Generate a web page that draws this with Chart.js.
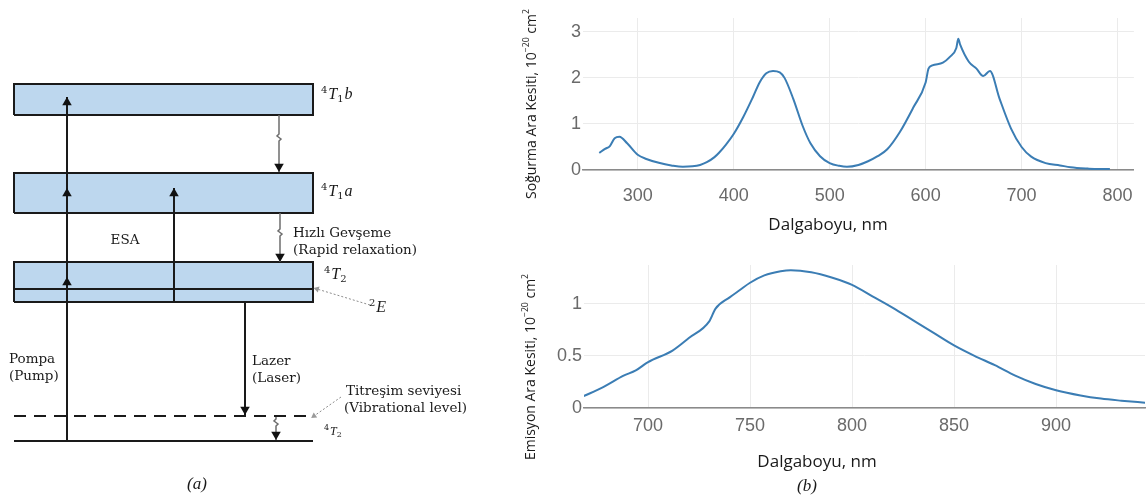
<!DOCTYPE html>
<html>
<head>
<meta charset="utf-8">
<script src="https://cdn.jsdelivr.net/npm/chart.js@4.4.1/dist/chart.umd.min.js"></script>
<style>
  html, body { margin: 0; padding: 0; background: #fff; }
  #wrap { position: relative; width: 1148px; height: 502px; overflow: hidden; }
  canvas { position: absolute; }
  #levels { left: 0; top: 0; width: 480px; height: 502px; }
  #abs { left: 500px; top: 0; width: 648px; height: 240px; }
  #emi { left: 500px; top: 240px; width: 648px; height: 262px; }
</style>
</head>
<body>
<div id="wrap">
  <canvas id="levels" width="480" height="502"></canvas>
  <canvas id="abs" width="648" height="240"></canvas>
  <canvas id="emi" width="648" height="262"></canvas>
</div>
<script>
// (a) enerji seviyesi şeması: x = şema genişliği, y = taban seviyeden enerji (keyfi birim)
const LEVEL_X = [14, 313];
const BANDS = [
  { lo: 326, hi: 357 },   // 4T1b
  { lo: 228, hi: 268 },   // 4T1a
  { lo: 139, hi: 179 },   // 4T2
];
const E2_LEVEL = 152;
const VIB_LEVEL = 25;
const GROUND = 0;

const PUMP = { x: 67, from: 0, heads: [344, 253, 164] };
const ESA = { x: 174, from: 139, to: 253 };
const LASER = { x: 245, from: 139, to: 26 };
const RELAX = [
  { x: 279, from: 326, to: 269, kink: 303 },
  { x: 280, from: 228, to: 179, kink: 208 },
  { x: 276, from: 25, to: 1, kink: 18 },
];
const POINTERS = [
  { from: [370, 136], to: [317, 152] },
  { from: [341, 44], to: [314, 25] },
];

const DIAGRAM_TEXT = [
  { x: 125, y: 201, text: 'ESA', align: 'center' },
  { x: 293, y: 208, text: 'Hızlı Gevşeme' },
  { x: 293, y: 191, text: '(Rapid relaxation)' },
  { x: 9, y: 82, text: 'Pompa' },
  { x: 9, y: 65, text: '(Pump)' },
  { x: 252, y: 80, text: 'Lazer' },
  { x: 252, y: 63, text: '(Laser)' },
  { x: 346, y: 50, text: 'Titreşim seviyesi' },
  { x: 344, y: 33, text: '(Vibrational level)' },
];
const TERMS = [
  { x: 321, y: 346, sup: '4', main: 'T', sub: '1', tail: 'b' },
  { x: 321, y: 249, sup: '4', main: 'T', sub: '1', tail: 'a' },
  { x: 324, y: 166, sup: '4', main: 'T', sub: '2', tail: '' },
  { x: 369, y: 133, sup: '2', main: 'E', sub: '', tail: '' },
  { x: 324, y: 9, sup: '4', main: 'T', sub: '2', tail: '', small: true },
];

// (b) soğurma ve emisyon ara kesitleri (10^-20 cm²)
const ABS_NM = [260, 266, 271, 276, 281, 289, 300, 309, 323, 335, 347, 357, 365, 372, 380, 385,
  392, 400, 410, 420, 427, 434, 441, 448, 453, 462, 472, 480, 490, 500, 510, 518, 530, 540, 550,
  560, 573, 587, 600, 603, 607, 618, 625, 632, 634, 636, 645, 653, 660, 667, 677, 689, 700, 710,
  725, 740, 751, 769, 780, 792];
const ABS_VAL = [0.37, 0.46, 0.52, 0.69, 0.72, 0.58, 0.33, 0.24, 0.15, 0.10, 0.07, 0.08, 0.11, 0.17,
  0.28, 0.38, 0.55, 0.78, 1.15, 1.58, 1.90, 2.10, 2.15, 2.12, 2.00, 1.55, 0.95, 0.58, 0.30, 0.15,
  0.09, 0.07, 0.11, 0.19, 0.30, 0.45, 0.82, 1.35, 1.90, 2.20, 2.27, 2.33, 2.45, 2.65, 2.85, 2.72,
  2.35, 2.20, 2.04, 2.15, 1.55, 0.90, 0.50, 0.29, 0.15, 0.10, 0.06, 0.03, 0.02, 0.02];
const ABS_X_TICKS = [300, 400, 500, 600, 700, 800];
const ABS_Y_TICKS = [0, 1, 2, 3];

const EMI_NM = [668, 678, 688, 694, 700, 712, 720, 730, 733, 740, 745, 750, 757, 765, 770, 780,
  790, 800, 810, 820, 830, 840, 850, 860, 870, 880, 890, 900, 912, 922, 932, 944];
const EMI_VAL = [0.11, 0.20, 0.31, 0.36, 0.44, 0.55, 0.67, 0.83, 0.95, 1.06, 1.13, 1.20, 1.27, 1.31,
  1.32, 1.30, 1.25, 1.18, 1.07, 0.96, 0.84, 0.72, 0.60, 0.50, 0.41, 0.31, 0.23, 0.17, 0.12, 0.09,
  0.07, 0.05];
const EMI_X_TICKS = [700, 750, 800, 850, 900];
const EMI_Y_TICKS = [0, 0.5, 1];

const CURVE = '#3b7db4';
const GRID = '#ebebeb';
const AXIS = '#8a8a8a';
const TICK_COLOR = '#6a6a6a';
const TICK_FONT = { family: "'Liberation Sans Narrow', sans-serif", size: 18 };
const SERIF = "'DejaVu Serif', serif";
const INK = '#1a1a1a';
const HEAD_R = 5.5;

// ---------- şema ----------
function seg(points, color, width, dash) {
  return {
    data: points.map(p => ({ x: p[0], y: p[1] })),
    showLine: true, borderColor: color, borderWidth: width, borderDash: dash || [],
    pointRadius: 0, fill: false, order: 5,
  };
}

function headAt(x, tip, up) {
  return { x: x, y: up ? tip - HEAD_R : tip + HEAD_R, rot: up ? 0 : 180 };
}

const diagramSets = [];
BANDS.forEach(b => {
  const [x0, x1] = LEVEL_X;
  diagramSets.push({
    data: [{ x: x0, y: b.lo }, { x: x1, y: b.lo }, { x: x1, y: b.hi }, { x: x0, y: b.hi }, { x: x0, y: b.lo }],
    showLine: true, borderColor: INK, borderWidth: 2, backgroundColor: '#bdd7ee',
    fill: 'shape', pointRadius: 0, order: 10,
  });
});
diagramSets.push(seg([[LEVEL_X[0], E2_LEVEL], [LEVEL_X[1], E2_LEVEL]], INK, 2));
diagramSets.push(seg([[LEVEL_X[0], VIB_LEVEL], [LEVEL_X[1], VIB_LEVEL]], INK, 2, [12, 8]));
diagramSets.push(seg([[LEVEL_X[0], GROUND], [LEVEL_X[1], GROUND]], INK, 2));

const heads = [];
diagramSets.push(seg([[PUMP.x, PUMP.from], [PUMP.x, PUMP.heads[0]]], INK, 2));
PUMP.heads.forEach(t => heads.push(headAt(PUMP.x, t, true)));
diagramSets.push(seg([[ESA.x, ESA.from], [ESA.x, ESA.to]], INK, 2));
heads.push(headAt(ESA.x, ESA.to, true));
diagramSets.push(seg([[LASER.x, LASER.from], [LASER.x, LASER.to]], INK, 2));
heads.push(headAt(LASER.x, LASER.to, false));

// gevşeme okları: gövdede küçük bir kıvrım
const SQUIGGLE = [[0, 4], [-2, 2], [2, -1], [0, -3]];
RELAX.forEach(r => {
  const pts = [[r.x, r.from]];
  SQUIGGLE.forEach(d => pts.push([r.x + d[0], r.kink + d[1]]));
  pts.push([r.x, r.to]);
  diagramSets.push(seg(pts, '#6d6d6d', 1.5));
  heads.push(headAt(r.x, r.to, false));
});

diagramSets.push({
  data: heads.map(h => ({ x: h.x, y: h.y })),
  pointStyle: 'triangle', pointRadius: HEAD_R, pointRotation: heads.map(h => h.rot),
  pointBackgroundColor: '#111', pointBorderColor: '#111', pointBorderWidth: 0,
  showLine: false, order: 1,
});

// noktalı işaret okları
POINTERS.forEach(p => {
  diagramSets.push(seg([p.from, p.to], '#8c8c8c', 1, [2, 2]));
  const dx = p.to[0] - p.from[0];
  const dyScreen = -(p.to[1] - p.from[1]);
  const rot = Math.atan2(dx, -dyScreen) * 180 / Math.PI;
  diagramSets.push({
    data: [{ x: p.to[0], y: p.to[1] }],
    pointStyle: 'triangle', pointRadius: 3.5, pointRotation: rot,
    pointBackgroundColor: '#9a9a9a', pointBorderColor: '#9a9a9a', pointBorderWidth: 0,
    showLine: false, order: 2,
  });
});

function drawTerm(ctx, px, py, t) {
  const big = t.small ? 12 : 16;
  const little = t.small ? 8 : 10;
  let x = px;
  ctx.textAlign = 'left';
  ctx.textBaseline = 'middle';
  ctx.fillStyle = INK;
  ctx.font = little + 'px ' + SERIF;
  ctx.fillText(t.sup, x, py - big * 0.3);
  x += ctx.measureText(t.sup).width + 1;
  ctx.font = 'italic ' + big + "px 'Liberation Serif', serif";
  ctx.fillText(t.main, x, py);
  x += ctx.measureText(t.main).width;
  if (t.sub) {
    ctx.font = little + 'px ' + SERIF;
    ctx.fillText(t.sub, x, py + big * 0.28);
    x += ctx.measureText(t.sub).width + 1;
  }
  if (t.tail) {
    ctx.font = 'italic ' + big + "px 'Liberation Serif', serif";
    ctx.fillText(t.tail, x, py);
  }
}

const diagramText = {
  id: 'diagramText',
  afterDatasetsDraw(chart) {
    const ctx = chart.ctx, sx = chart.scales.x, sy = chart.scales.y;
    ctx.save();
    ctx.fillStyle = INK;
    ctx.textBaseline = 'middle';
    ctx.font = '13.5px ' + SERIF;
    DIAGRAM_TEXT.forEach(t => {
      ctx.textAlign = t.align || 'left';
      ctx.fillText(t.text, sx.getPixelForValue(t.x), sy.getPixelForValue(t.y));
    });
    TERMS.forEach(t => drawTerm(ctx, sx.getPixelForValue(t.x), sy.getPixelForValue(t.y), t));
    ctx.font = "italic 17px 'Liberation Serif', serif";
    ctx.textAlign = 'center';
    ctx.fillText('(a)', sx.getPixelForValue(197), sy.getPixelForValue(-44));
    ctx.restore();
  },
};

new Chart(document.getElementById('levels'), {
  type: 'scatter',
  data: { datasets: diagramSets },
  options: {
    responsive: false, animation: false, events: [],
    layout: { padding: 0, autoPadding: false },
    plugins: { legend: { display: false }, tooltip: { enabled: false } },
    scales: {
      x: { type: 'linear', min: 0, max: 480, display: false },
      y: { type: 'linear', min: -61, max: 441, display: false },
    },
  },
  plugins: [diagramText],
});

// ---------- spektrumlar ----------
// Eksen başlıkları: parçalar halinde, üst simgeler küçük ve yukarıda
const panelText = {
  id: 'panelText',
  afterDraw(chart, args, opts) {
    const ctx = chart.ctx;
    (opts.items || []).forEach(t => {
      ctx.save();
      ctx.fillStyle = t.color || INK;
      ctx.textAlign = 'left';
      ctx.textBaseline = 'middle';
      ctx.translate(t.x, t.y);
      if (t.rotate) ctx.rotate(t.rotate * Math.PI / 180);
      const parts = t.parts || [{ t: t.text }];
      const fontFor = p => (t.italic ? 'italic ' : '') + (p.sup ? t.size * 0.62 : t.size) + 'px ' + t.family;
      let width = 0;
      parts.forEach(p => { ctx.font = fontFor(p); width += ctx.measureText(p.t).width; });
      let x = -width / 2;
      parts.forEach(p => {
        ctx.font = fontFor(p);
        ctx.fillText(p.t, x, p.sup ? -t.size * 0.38 : 0);
        x += ctx.measureText(p.t).width;
      });
      ctx.restore();
    });
  },
};

function spectrum(canvas, cfg) {
  return new Chart(canvas, {
    type: 'line',
    data: {
      datasets: [{
        data: cfg.nm.map((x, i) => ({ x: x, y: cfg.val[i] })),
        borderColor: CURVE, borderWidth: 2, pointRadius: 0,
        cubicInterpolationMode: 'monotone', fill: false,
      }],
    },
    options: {
      responsive: false, animation: false, events: [],
      layout: { padding: cfg.pad, autoPadding: false },
      plugins: {
        legend: { display: false }, tooltip: { enabled: false },
        panelText: { items: cfg.text },
      },
      scales: {
        x: {
          type: 'linear', min: cfg.xMin, max: cfg.xMax,
          afterBuildTicks: s => { s.ticks = cfg.xTicks.map(v => ({ value: v })); },
          afterFit: s => { s.height = cfg.xAxisH; },
          grid: { color: GRID, drawTicks: false },
          border: { color: AXIS, width: 1.5 },
          ticks: { font: TICK_FONT, color: TICK_COLOR, padding: cfg.xPad, maxRotation: 0, callback: v => String(v) },
        },
        y: {
          type: 'linear', min: 0, max: cfg.yMax,
          afterBuildTicks: s => { s.ticks = cfg.yTicks.map(v => ({ value: v })); },
          afterFit: s => { s.width = cfg.yAxisW; },
          grid: { color: GRID, drawTicks: false },
          border: { display: false },
          ticks: { font: TICK_FONT, color: TICK_COLOR, padding: 2, callback: v => String(v) },
        },
      },
    },
    plugins: [panelText],
  });
}

const SANS = "'Open Sans', sans-serif";
const unitParts = name => [{ t: name + ', 10' }, { t: '−20', sup: true }, { t: ' cm' }, { t: '2', sup: true }];

spectrum(document.getElementById('abs'), {
  nm: ABS_NM, val: ABS_VAL, xTicks: ABS_X_TICKS, yTicks: ABS_Y_TICKS,
  xMin: 243, xMax: 817, yMax: 3.3,
  pad: { left: 0, top: 18, right: 14, bottom: 0 },
  yAxisW: 83, xAxisH: 70, xPad: 15,
  text: [
    { text: 'Dalgaboyu, nm', x: 328, y: 225, size: 17, family: SANS },
    { parts: unitParts('Soğurma Ara Kesiti'), x: 32, y: 104, rotate: -90, size: 14, family: SANS },
  ],
});

spectrum(document.getElementById('emi'), {
  nm: EMI_NM, val: EMI_VAL, xTicks: EMI_X_TICKS, yTicks: EMI_Y_TICKS,
  xMin: 668.6, xMax: 943.6, yMax: 1.37,
  pad: { left: 0, top: 25, right: 3, bottom: 0 },
  yAxisW: 84, xAxisH: 94, xPad: 7,
  text: [
    { text: 'Dalgaboyu, nm', x: 317, y: 222, size: 17, family: SANS },
    { parts: unitParts('Emisyon Ara Kesiti'), x: 31, y: 127, rotate: -90, size: 14, family: SANS },
    { text: '(b)', x: 307, y: 247, size: 17, family: "'Liberation Serif', serif", italic: true },
  ],
});
</script>
</body>
</html>
